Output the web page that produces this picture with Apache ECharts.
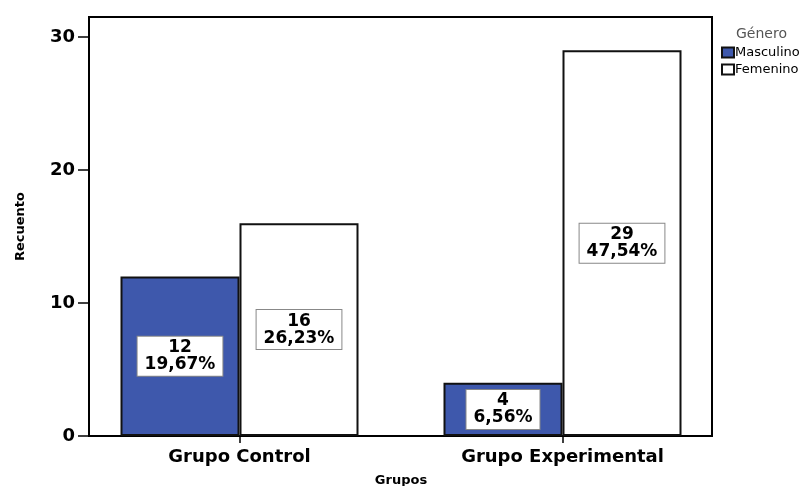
<!DOCTYPE html>
<html>
<head>
<meta charset="utf-8">
<script src="https://cdn.jsdelivr.net/npm/echarts@6/dist/echarts.min.js"></script>
<style>html,body{margin:0;padding:0;background:#fff;}#c{width:811px;height:486px;}</style>
</head>
<body>
<div id="c"></div>
<script>
const groups = ['Grupo Control', 'Grupo Experimental'];
const masculino = [12, 4];
const femenino = [16, 29];
const masculinoPct = ['19,67%', '6,56%'];
const femeninoPct = ['26,23%', '47,54%'];
const yTicks = [0, 10, 20, 30];

const FONT = 'DejaVu Sans';
const labelStyle = (pcts) => ({
  show: true,
  position: 'inside',
  formatter: p => p.value + '\n' + pcts[p.dataIndex],
  color: '#000',
  fontFamily: FONT,
  fontWeight: 'bold',
  fontSize: 17,
  lineHeight: 17,
  backgroundColor: '#fff',
  borderColor: '#888',
  borderWidth: 1,
  padding: [3, 7, 2, 7],
  align: 'center'
});

const chart = echarts.init(document.getElementById('c'), null, {renderer: 'canvas'});
chart.setOption({
  animation: false,
  backgroundColor: '#fff',
  title: {
    text: 'Género', left: 731, top: 22,
    textStyle: {fontFamily: FONT, fontSize: 14, fontWeight: 'normal', color: '#555'}
  },
  legend: {
    data: ['Masculino', 'Femenino'],
    orient: 'vertical', left: 716, top: 41,
    icon: 'rect', itemWidth: 12, itemHeight: 10, itemGap: 4,
    textStyle: {fontFamily: FONT, fontSize: 13, color: '#000', padding: [0, 0, 0, -4]}
  },
  grid: [
    {left: 89, right: 99, top: 17, bottom: 50, show: true, borderColor: '#000', borderWidth: 2, backgroundColor: 'transparent', outerBoundsMode: 'none', containLabel: false},
    {left: 78, right: 87, top: 17, bottom: 50, outerBoundsMode: 'none', containLabel: false}
  ],
  xAxis: [
    {gridIndex: 0, type: 'category', data: groups, show: false},
    {
      gridIndex: 1, type: 'category', data: groups,
      axisLine: {show: false},
      axisTick: {show: true, alignWithLabel: true, length: 7, lineStyle: {color: '#000', width: 1.5}},
      axisLabel: {color: '#000', fontFamily: FONT, fontWeight: 'bold', fontSize: 18, margin: 12},
      name: 'Grupos', nameLocation: 'middle', nameGap: 38,
      nameTextStyle: {color: '#000', fontFamily: FONT, fontWeight: 'bold', fontSize: 13}
    }
  ],
  yAxis: [
    {
      gridIndex: 0, type: 'value', min: 0, max: 31.5,
      axisLine: {show: true, lineStyle: {color: '#000', width: 2}},
      axisTick: {show: true, length: 11, lineStyle: {color: '#000', width: 1.5}, customValues: yTicks},
      axisLabel: {color: '#000', fontFamily: FONT, fontWeight: 'bold', fontSize: 18, margin: 14, customValues: yTicks},
      splitLine: {show: false},
      name: 'Recuento', nameLocation: 'middle', nameGap: 62, nameRotate: 90,
      nameTextStyle: {color: '#000', fontFamily: FONT, fontWeight: 'bold', fontSize: 13}
    },
    {gridIndex: 1, type: 'value', min: 0, max: 31.5, show: false}
  ],
  series: [
    {
      name: 'Masculino', type: 'bar', xAxisIndex: 1, yAxisIndex: 1,
      data: masculino, barWidth: 119, barGap: '0%',
      itemStyle: {color: '#3E58AC', borderColor: '#111', borderWidth: 2},
      label: labelStyle(masculinoPct)
    },
    {
      name: 'Femenino', type: 'bar', xAxisIndex: 1, yAxisIndex: 1,
      data: femenino, barWidth: 119, barGap: '0%',
      itemStyle: {color: '#fff', borderColor: '#111', borderWidth: 2},
      label: labelStyle(femeninoPct)
    }
  ]
});
</script>
</body>
</html>
